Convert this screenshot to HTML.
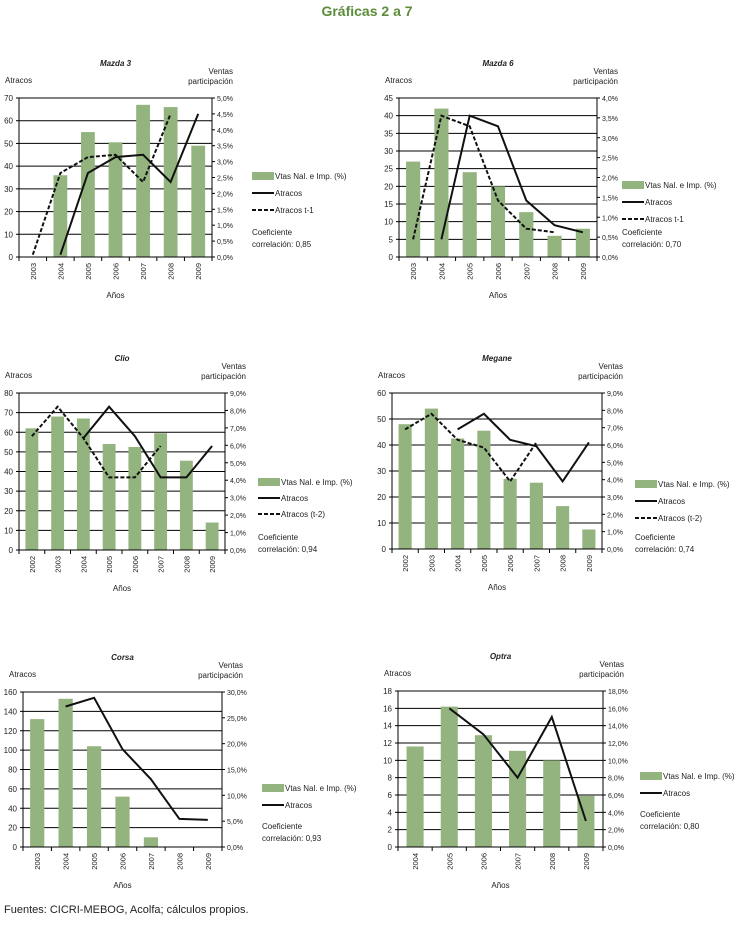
<!DOCTYPE html>
<html><head><meta charset="utf-8">
<style>
body{margin:0;background:#fff;width:735px;height:920px;overflow:hidden;font-family:"Liberation Sans",sans-serif}
svg text{font-family:"Liberation Sans",sans-serif;fill:#222}
</style></head>
<body>
<svg id="s" width="735" height="920" viewBox="0 0 735 920" xmlns="http://www.w3.org/2000/svg">
<text x="367" y="16" text-anchor="middle" font-size="14" font-weight="bold" style="fill:#5b8c3a">Gráficas 2 a 7</text>
<text x="4" y="913" font-size="11">Fuentes: CICRI-MEBOG, Acolfa; cálculos propios.</text>
</svg>
<script>
// ---- data ----
const mazda3Years=["2003","2004","2005","2006","2007","2008","2009"];
const mazda3Bars=[null,36,55,50.5,67,66,49];
const mazda3Atracos=[null,1,37,44,45,33,63];
const mazda3Lag=[1,37,44,45,33,63,null];
const mazda3Left=["0","10","20","30","40","50","60","70"];
const mazda3Right=["0,0%","0,5%","1,0%","1,5%","2,0%","2,5%","3,0%","3,5%","4,0%","4,5%","5,0%"];

const mazda6Years=["2003","2004","2005","2006","2007","2008","2009"];
const mazda6Bars=[27,42,24,20,12.7,6,8];
const mazda6Atracos=[null,5,40,37,16,9,7];
const mazda6Lag=[5,40,37,16,8,7,null];
const mazda6Left=["0","5","10","15","20","25","30","35","40","45"];
const mazda6Right=["0,0%","0,5%","1,0%","1,5%","2,0%","2,5%","3,0%","3,5%","4,0%"];

const clioYears=["2002","2003","2004","2005","2006","2007","2008","2009"];
const clioBars=[62,68,67,54,52.5,59.5,45.5,14];
const clioAtracos=[null,null,57,73,58,37,37,53];
const clioLag=[58,73,57,37,37,53,null,null];
const clioLeft=["0","10","20","30","40","50","60","70","80"];
const clioRight=["0,0%","1,0%","2,0%","3,0%","4,0%","5,0%","6,0%","7,0%","8,0%","9,0%"];

const meganeYears=["2002","2003","2004","2005","2006","2007","2008","2009"];
const meganeBars=[48,54,42.5,45.5,27,25.5,16.5,7.5];
const meganeAtracos=[null,null,46,52,42,39.5,26,41];
const meganeLag=[46,52,42,39,26,41,null,null];
const meganeLeft=["0","10","20","30","40","50","60"];
const meganeRight=["0,0%","1,0%","2,0%","3,0%","4,0%","5,0%","6,0%","7,0%","8,0%","9,0%"];

const corsaYears=["2003","2004","2005","2006","2007","2008","2009"];
const corsaBars=[132,153,104,52,10,0,0];
const corsaAtracos=[null,145,154,101,70,29,28];
const corsaLeft=["0","20","40","60","80","100","120","140","160"];
const corsaRight=["0,0%","5,0%","10,0%","15,0%","20,0%","25,0%","30,0%"];

const optraYears=["2004","2005","2006","2007","2008","2009"];
const optraBars=[11.6,16.2,12.9,11.1,10,5.9];
const optraAtracos=[null,16,13,8,15,3];
const optraLeft=["0","2","4","6","8","10","12","14","16","18"];
const optraRight=["0,0%","2,0%","4,0%","6,0%","8,0%","10,0%","12,0%","14,0%","16,0%","18,0%"];

const NS="http://www.w3.org/2000/svg";
const svg=document.getElementById('s');
function mk(tag,attrs,parent,text){const e=document.createElementNS(NS,tag);for(const k in attrs)e.setAttribute(k,attrs[k]);if(text!=null)e.textContent=text;(parent||svg).appendChild(e);return e;}

function chart(c){
  const g=mk('g',{});
  
  
  const L=c.x0,R=c.x1,T=c.y0,B=c.y1;
  const max=parseFloat(c.left[c.left.length-1]);
  const y=v=>B-(v/max)*(B-T);
  const n=c.years.length, bw=(R-L)/n;
  const x=i=>L+bw*(i+0.5);
  c.left.forEach((t,i)=>{const v=parseFloat(t);const yy=y(v);
    const gl=mk('line',{x1:L,x2:R,y1:yy,y2:yy,stroke:'#000','stroke-width':1},g);
    
    
    mk('line',{x1:L-3,x2:L,y1:yy,y2:yy,stroke:'#000'},g);
    const tl=mk('text',{x:L-6,y:yy+3,'text-anchor':'end','font-size':8},g,t);
    
    
  });
  c.right.forEach((t,i)=>{const yy=B-i/(c.right.length-1)*(B-T);
    mk('line',{x1:R,x2:R+3,y1:yy,y2:yy,stroke:'#000'},g);
    const tl=mk('text',{x:R+5,y:yy+3,'font-size':7},g,t);
    
    
  });
  c.bars.forEach((v,i)=>{if(v==null||v<=0)return;
    const r=mk('rect',{x:x(i)-bw*0.25,y:y(v),width:bw*0.5,height:B-y(v),fill:'#93b47f'},g);
    
    
  });
  function line(arr,dash,name){let d='';arr.forEach((v,i)=>{if(v==null)return;d+=(d?'L':'M')+x(i).toFixed(1)+' '+y(v).toFixed(1);});
    const p=mk('path',{d:d,fill:'none',stroke:'#111','stroke-width':2,'stroke-dasharray':dash?'4,2':'none'},g);
    
    
  }
  line(c.atr,false,'atracos-line');
  if(c.lag)line(c.lag,true,'atracos-lag-line');
  mk('line',{x1:L,x2:L,y1:T,y2:B,stroke:'#000'},g);
  mk('line',{x1:R,x2:R,y1:T,y2:B,stroke:'#000'},g);
  mk('line',{x1:L,x2:R,y1:B,y2:B,stroke:'#000'},g);
  for(let i=0;i<=n;i++)mk('line',{x1:L+bw*i,x2:L+bw*i,y1:B,y2:B+4,stroke:'#000'},g);
  c.years.forEach((t,i)=>{const tl=mk('text',{x:0,y:0,'font-size':7.5,'text-anchor':'end',transform:`translate(${x(i)+3},${B+6}) rotate(-90)`},g,t);
    
    });
  const cx=(L+R)/2;
  const tt=mk('text',{x:cx,y:T-32,'text-anchor':'middle','font-size':8,'font-style':'italic','font-weight':'bold'},g,c.title);
  
  
  const at=mk('text',{x:L-14,y:T-15,'font-size':8},g,'Atracos');
  
  
  const v1=mk('text',{x:R+21,y:T-24,'text-anchor':'end','font-size':8},g,'Ventas');
  
  
  mk('text',{x:R+21,y:T-14,'text-anchor':'end','font-size':8},g,'participación');
  const xa=mk('text',{x:cx,y:B+41,'text-anchor':'middle','font-size':8},g,'Años');
  
  
  const lx=c.lx, ly=c.ly;
  let yy=ly;
  mk('rect',{x:lx,y:yy-4,width:22,height:8,fill:'#93b47f'},g);
  const l1=mk('text',{x:lx+23,y:yy+3,'font-size':8},g,'Vtas Nal. e Imp. (%)');
  
  
  yy+=c.lg;
  mk('line',{x1:lx,x2:lx+22,y1:yy,y2:yy,stroke:'#111','stroke-width':2},g);
  const l2=mk('text',{x:lx+23,y:yy+3,'font-size':8},g,'Atracos');
  
  
  if(c.lagLabel){yy+=c.lg;
    mk('line',{x1:lx,x2:lx+22,y1:yy,y2:yy,stroke:'#111','stroke-width':2,'stroke-dasharray':'4,2'},g);
    const l3=mk('text',{x:lx+23,y:yy+3,'font-size':8},g,c.lagLabel);
    
    }
  const c1=mk('text',{x:lx,y:c.cy,'font-size':8},g,'Coeficiente');
  
  
  mk('text',{x:lx,y:c.cy+12,'font-size':8},g,'correlación: '+c.coef);
}
chart({id:'mazda3',title:'Mazda 3',x0:19,x1:212,y0:98,y1:257,years:mazda3Years,bars:mazda3Bars,atr:mazda3Atracos,lag:mazda3Lag,left:mazda3Left,right:mazda3Right,lx:252,ly:176,lg:17,lagLabel:'Atracos t-1',cy:235,coef:'0,85'});
chart({id:'mazda6',title:'Mazda 6',x0:399,x1:597,y0:98,y1:257,years:mazda6Years,bars:mazda6Bars,atr:mazda6Atracos,lag:mazda6Lag,left:mazda6Left,right:mazda6Right,lx:622,ly:185,lg:17,lagLabel:'Atracos t-1',cy:235,coef:'0,70'});
chart({id:'clio',title:'Clio',x0:19,x1:225,y0:393,y1:550,years:clioYears,bars:clioBars,atr:clioAtracos,lag:clioLag,left:clioLeft,right:clioRight,lx:258,ly:482,lg:16,lagLabel:'Atracos  (t-2)',cy:540,coef:'0,94'});
chart({id:'megane',title:'Megane',x0:392,x1:602,y0:393,y1:549,years:meganeYears,bars:meganeBars,atr:meganeAtracos,lag:meganeLag,left:meganeLeft,right:meganeRight,lx:635,ly:484,lg:17,lagLabel:'Atracos (t-2)',cy:540,coef:'0,74'});
chart({id:'corsa',title:'Corsa',x0:23,x1:222,y0:692,y1:847,years:corsaYears,bars:corsaBars,atr:corsaAtracos,lag:null,left:corsaLeft,right:corsaRight,lx:262,ly:788,lg:17,lagLabel:null,cy:829,coef:'0,93'});
chart({id:'optra',title:'Optra',x0:398,x1:603,y0:691,y1:847,years:optraYears,bars:optraBars,atr:optraAtracos,lag:null,left:optraLeft,right:optraRight,lx:640,ly:776,lg:17,lagLabel:null,cy:817,coef:'0,80'});
</script>
</body></html>
